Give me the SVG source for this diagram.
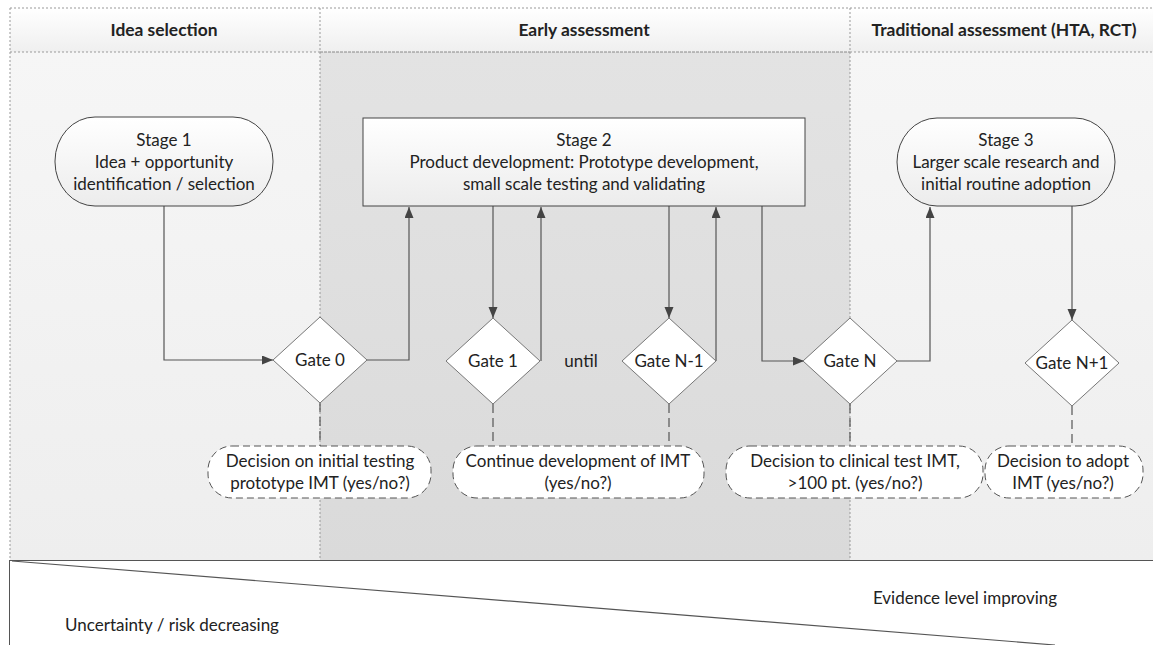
<svg xmlns="http://www.w3.org/2000/svg" width="1153" height="645" viewBox="0 0 1153 645">
<defs>
<linearGradient id="gHead" x1="0" y1="0" x2="0" y2="1"><stop offset="0" stop-color="#ffffff"/><stop offset="1" stop-color="#efefef"/></linearGradient>
<linearGradient id="gSide" x1="0" y1="0" x2="0" y2="1"><stop offset="0" stop-color="#f6f6f6"/><stop offset="1" stop-color="#eeeeee"/></linearGradient>
<linearGradient id="gMid" x1="0" y1="0" x2="0" y2="1"><stop offset="0" stop-color="#e3e3e3"/><stop offset="1" stop-color="#dadada"/></linearGradient>
<linearGradient id="gStage" x1="0" y1="0" x2="0" y2="1"><stop offset="0" stop-color="#ffffff"/><stop offset="1" stop-color="#ececec"/></linearGradient>
<marker id="arr" markerUnits="userSpaceOnUse" markerWidth="12" markerHeight="10" refX="11" refY="4.5" orient="auto"><path d="M0,0 L11,4.5 L0,9 z" fill="#444"/></marker>
</defs>
<style>
text{font-family:Lato,"Open Sans","Liberation Sans",sans-serif;fill:#222;font-size:17px;text-anchor:middle}
.title{font-weight:bold;font-size:17.4px}
.dot{stroke:#999;stroke-width:1;stroke-dasharray:2,2;fill:none}
.stage{fill:url(#gStage);stroke:#444;stroke-width:1}
.gate{fill:#ffffff;stroke:#777;stroke-width:1}
.dec{fill:#ffffff;stroke:#555;stroke-width:1;stroke-dasharray:7,4}
.con{fill:none;stroke:#555;stroke-width:1.2}
.dcon{fill:none;stroke:#555;stroke-width:1.2;stroke-dasharray:9,5}
</style>
<rect x="0" y="0" width="1153" height="645" fill="#ffffff"/>
<g id="lanes">
<rect x="10" y="8" width="1143" height="44" fill="url(#gHead)"/>
<rect x="10" y="52" width="310" height="508" fill="url(#gSide)"/>
<rect x="320" y="52" width="530" height="508" fill="url(#gMid)"/>
<rect x="850" y="52" width="303" height="508" fill="url(#gSide)"/>
<line class="dot" x1="10" y1="8" x2="1153" y2="8"/>
<line class="dot" x1="10" y1="52" x2="320" y2="52"/>
<line class="dot" x1="850" y1="52" x2="1153" y2="52"/>
<line x1="320" y1="52" x2="850" y2="52" stroke="#888" stroke-width="1" stroke-dasharray="3,1"/>
<line class="dot" x1="10" y1="8" x2="10" y2="560"/>
<line class="dot" x1="320" y1="8" x2="320" y2="560"/>
<line class="dot" x1="850" y1="8" x2="850" y2="560"/>
<text class="title" x="164" y="36">Idea selection</text>
<text class="title" x="584" y="36">Early assessment</text>
<text class="title" x="1004" y="36">Traditional assessment (HTA, RCT)</text>
</g>
<g id="evidence">
<line x1="10" y1="560.5" x2="1153" y2="560.5" stroke="#555" stroke-width="1.2"/>
<line x1="9.5" y1="560" x2="9.5" y2="645" stroke="#555" stroke-width="1"/>
<line x1="12" y1="561" x2="1055" y2="645" stroke="#555" stroke-width="1.2"/>
<text x="965" y="604">Evidence level improving</text>
<text x="172" y="631">Uncertainty / risk decreasing</text>
</g>
<g id="connectors">
<path class="con" d="M164 206 V360 H273" marker-end="url(#arr)"/>
<path class="con" d="M367 360 H409 V207" marker-end="url(#arr)"/>
<path class="con" d="M493 206 V318" marker-end="url(#arr)"/>
<path class="con" d="M541 361 V207" marker-end="url(#arr)"/>
<path class="con" d="M669 206 V318" marker-end="url(#arr)"/>
<path class="con" d="M716 361 V207" marker-end="url(#arr)"/>
<path class="con" d="M762 206 V361 H804" marker-end="url(#arr)"/>
<path class="con" d="M896 361 H930 V207" marker-end="url(#arr)"/>
<path class="con" d="M1072 206 V320" marker-end="url(#arr)"/>
<path class="dcon" d="M320 403 V446"/>
<path class="dcon" d="M493 404 V446"/>
<path class="dcon" d="M669 404 V446"/>
<path class="dcon" d="M850 404 V446"/>
<path class="dcon" d="M1072 406 V446"/>
</g>
<g id="stage1">
<rect class="stage" x="55" y="117" width="218" height="89" rx="40" ry="44"/>
<text x="164" y="146">Stage 1</text>
<text x="164" y="168">Idea + opportunity</text>
<text x="164" y="190">identification / selection</text>
</g>
<g id="stage2">
<rect class="stage" x="363" y="118" width="442" height="88"/>
<text x="584" y="146">Stage 2</text>
<text x="584" y="168">Product development: Prototype development,</text>
<text x="584" y="190">small scale testing and validating</text>
</g>
<g id="stage3">
<rect class="stage" x="897" y="118" width="218" height="88" rx="40" ry="44"/>
<text x="1006" y="146">Stage 3</text>
<text x="1006" y="168">Larger scale research and</text>
<text x="1006" y="190">initial routine adoption</text>
</g>
<g id="gate0">
<polygon class="gate" points="320,317 367,360 320,403 273,360"/>
<text x="320" y="366">Gate 0</text>
</g>
<g id="gate1">
<polygon class="gate" points="493,318 540,361 493,404 446,361"/>
<text x="493" y="367">Gate 1</text>
</g>
<text id="until" x="581" y="367">until</text>
<g id="gateN-1">
<polygon class="gate" points="669,318 716,361 669,404 622,361"/>
<text x="669" y="367">Gate N-1</text>
</g>
<g id="gateN">
<polygon class="gate" points="850,318 897,361 850,404 803,361"/>
<text x="850" y="367">Gate N</text>
</g>
<g id="gateN+1">
<polygon class="gate" points="1072,320 1119,363 1072,406 1025,363"/>
<text x="1072" y="369">Gate N+1</text>
</g>
<g id="decision0">
<rect class="dec" x="208" y="446" width="223" height="52" rx="24" ry="24"/>
<text x="320" y="467">Decision on initial testing</text>
<text x="320" y="489">prototype IMT (yes/no?)</text>
</g>
<g id="decision1">
<rect class="dec" x="453" y="446" width="251" height="52" rx="24" ry="24"/>
<text x="578" y="467">Continue development of IMT</text>
<text x="578" y="489">(yes/no?)</text>
</g>
<g id="decisionN">
<rect class="dec" x="726" y="446" width="257" height="52" rx="24" ry="24"/>
<text x="855" y="467">Decision to clinical test IMT,</text>
<text x="855" y="489">&gt;100 pt. (yes/no?)</text>
</g>
<g id="decisionN1">
<rect class="dec" x="985" y="446" width="158" height="52" rx="24" ry="24"/>
<text x="1063" y="467">Decision to adopt</text>
<text x="1063" y="489">IMT (yes/no?)</text>
</g>
</svg>
